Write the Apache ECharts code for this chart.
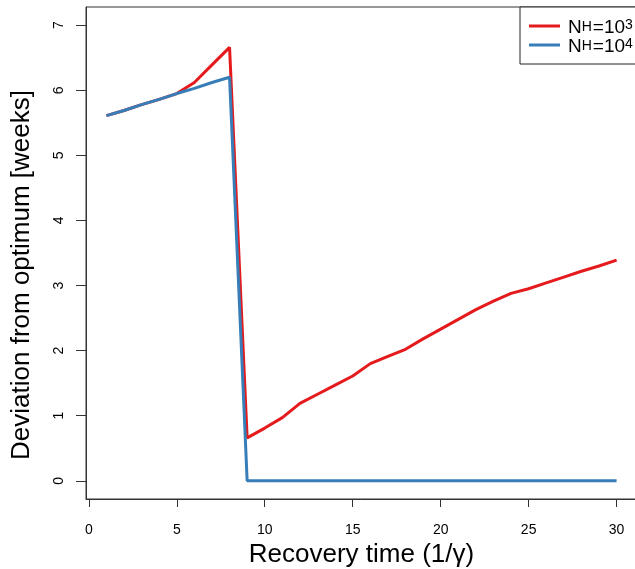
<!DOCTYPE html>
<html>
<head>
<meta charset="utf-8">
<script src="https://cdn.jsdelivr.net/npm/echarts@6/dist/echarts.min.js"></script>
<style>
  html, body { margin: 0; padding: 0; background: #fff; }
  #main { width: 635px; height: 569px; }
</style>
</head>
<body>
<div id="main"></div>
<script>
// recovery time 1/gamma
const recoveryTime = [1, 2, 3, 4, 5, 6, 7, 8, 9, 10, 11, 12, 13, 14, 15, 16, 17, 18, 19, 20, 21, 22, 23, 24, 25, 26, 27, 28, 29, 30];
// N_H = 10^3
const devNH3 = [5.61, 5.69, 5.78, 5.86, 5.95, 6.12, 6.39, 6.66, 0.66, 0.81, 0.97, 1.19, 1.33, 1.47, 1.61, 1.80, 1.91, 2.02, 2.18, 2.33, 2.48, 2.63, 2.76, 2.88, 2.95, 3.04, 3.13, 3.22, 3.30, 3.39];
// N_H = 10^4
const devNH4 = [5.61, 5.69, 5.78, 5.86, 5.95, 6.03, 6.12, 6.20, 0, 0, 0, 0, 0, 0, 0, 0, 0, 0, 0, 0, 0, 0, 0, 0, 0, 0, 0, 0, 0, 0];
const xTicks = [0, 5, 10, 15, 20, 25, 30];
const yTicks = [0, 1, 2, 3, 4, 5, 6, 7];

const font = "'Liberation Sans', Arial, sans-serif";
const myChart = echarts.init(document.getElementById("main"));

const toPairs = (ys) => recoveryTime.map((x, i) => [x, ys[i]]);

const option = {
  animation: false,
  textStyle: { fontFamily: font },
  grid: {
    left: 86,
    right: -2,
    top: 7,
    bottom: 70,
    outerBoundsMode: "none",
    show: true,
    borderColor: "#333",
    borderWidth: 1,
  },
  legend: {
    left: 520,
    top: 7,
    orient: "vertical",
    icon: "rect",
    itemWidth: 31,
    itemHeight: 3,
    itemGap: 0,
    padding: [11, 30, 8, 9],
    borderColor: "#222",
    borderWidth: 1,
    backgroundColor: "#fff",
    data: ["N_H=10^3", "N_H=10^4"],
    formatter: (name) => {
      const p = name.split("^");
      return "{n|N}{sub|H}{n|=10}{sup|" + p[1] + "}";
    },
    textStyle: {
      padding: [0, 0, 0, 3],
      rich: {
        n: { fontSize: 19, fontFamily: font, color: "#000", lineHeight: 16, verticalAlign: "top" },
        sub: { fontSize: 14, fontFamily: font, color: "#000", lineHeight: 12, verticalAlign: "bottom", padding: [0, 1, 0, 0] },
        sup: { fontSize: 14, fontFamily: font, color: "#000", lineHeight: 12, verticalAlign: "top" },
      },
    },
  },
  xAxis: {
    type: "value",
    min: -0.16,
    max: 31.16,
    name: "Recovery time (1/\u03b3)",
    nameLocation: "middle",
    nameGap: 38,
    nameTextStyle: { fontSize: 26, color: "#000", fontFamily: font },
    axisLine: { show: true, onZero: false, lineStyle: { color: "#333" } },
    axisTick: { show: true, length: 8, customValues: xTicks, lineStyle: { color: "#333" } },
    axisLabel: { customValues: xTicks, fontSize: 14, color: "#000", margin: 24 },
    splitLine: { show: false },
  },
  yAxis: {
    type: "value",
    min: -0.28,
    max: 7.28,
    name: "Deviation from optimum [weeks]",
    nameLocation: "middle",
    nameGap: 51,
    nameTextStyle: { fontSize: 26, color: "#000", fontFamily: font, padding: [0, 44, 0, 0] },
    axisLine: { show: true, onZero: false, lineStyle: { color: "#333" } },
    axisTick: { show: true, length: 10, customValues: yTicks, lineStyle: { color: "#333" } },
    axisLabel: { customValues: yTicks, fontSize: 14, color: "#000", rotate: 90, margin: 20 },
    splitLine: { show: false },
  },
  series: [
    {
      name: "N_H=10^3",
      type: "line",
      data: toPairs(devNH3),
      symbol: "none",
      color: "#E41A1C",
      lineStyle: { width: 3, color: "#E41A1C" },
    },
    {
      name: "N_H=10^4",
      type: "line",
      data: toPairs(devNH4),
      symbol: "none",
      color: "#377EB8",
      lineStyle: { width: 3, color: "#377EB8" },
    },
  ],
};

myChart.setOption(option);
</script>
</body>
</html>
